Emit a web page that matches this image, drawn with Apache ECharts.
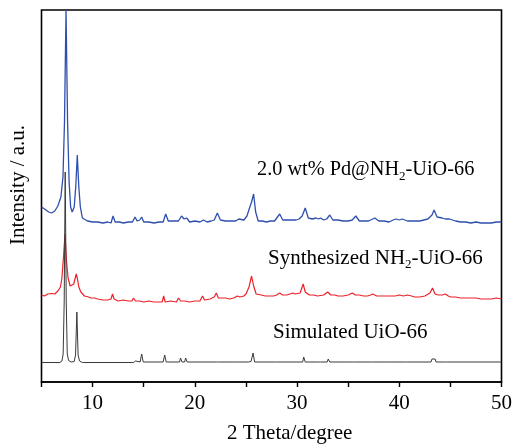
<!DOCTYPE html>
<html><head><meta charset="utf-8">
<script src="https://cdn.jsdelivr.net/npm/echarts@6/dist/echarts.min.js"></script>
<style>html,body{margin:0;padding:0;background:#fff}#c{width:515px;height:445px}</style>
</head><body><div id="c"></div>
<script>
// 2θ (degree) vs intensity (a.u., stacked offsets as drawn)
var xTicks = [10, 20, 30, 40, 50];
var seriesNames = ['Simulated UiO-66', 'Synthesized NH2-UiO-66', '2.0 wt% Pd@NH2-UiO-66'];

var simulated = [[5,19.5],[6.8,19.5],[7.0,21],[7.12,28],[7.22,80],[7.32,210],[7.42,80],[7.52,28],[7.65,21.5],[7.9,20],[8.2,20.5],[8.33,27],[8.46,70],[8.58,27],[8.72,21],[9,19.5],[14.0,19.5],[14.2,21],[14.35,19.5],[14.65,20],[14.8,28],[14.95,20],[16.9,20],[17.05,27],[17.2,20],[18.5,20],[18.6,24],[18.75,20],[19.0,20],[19.1,24],[19.25,20],[22.1,20],[22.2,22],[22.3,20],[24.1,20],[24.2,21],[24.3,20],[25.25,20],[25.35,22],[25.5,20.5],[25.6,21],[25.7,29],[25.85,20],[27.9,20],[28.0,21],[28.1,20],[29.5,20],[29.6,21],[29.7,20],[30.55,20],[30.65,25],[30.8,20],[32.1,20],[32.2,21],[32.3,20],[32.95,20],[33.05,23],[33.2,20],[34.6,20],[34.7,21],[34.8,20],[35.5,20],[35.6,22],[35.7,20],[37.3,20],[37.4,22],[37.5,20],[39.0,20],[39.1,21],[39.2,20],[40.5,20],[40.6,22],[40.7,20],[43.1,20],[43.2,23],[43.35,21],[43.5,23],[43.6,20],[44.4,20],[44.5,22],[44.6,20],[50,20]];

var synthesized = [[5,87],[5.3,86],[5.6,88],[6,88.5],[6.3,88],[6.6,91],[6.85,95],[7.0,104],[7.15,125],[7.3,148],[7.45,120],[7.6,104],[7.8,96],[7.95,94],[8.15,98],[8.3,104],[8.4,108],[8.52,103],[8.65,95],[8.85,90],[9.2,86],[9.6,85],[9.8,84],[10.2,84],[10.5,83],[11,82],[11.5,82],[11.8,83],[11.95,88],[12.1,83],[12.5,81],[13,82],[13.5,81],[13.85,81],[14.0,84],[14.2,81],[14.6,81],[15,80],[15.5,81],[16,80],[16.5,80],[16.8,80],[16.95,86],[17.1,80],[17.6,81],[18.2,80],[18.4,84],[18.6,81],[19.0,81],[19.5,80],[20,81],[20.5,81],[20.75,86],[20.95,82],[21.5,83],[21.9,85],[22.1,89],[22.3,84],[22.7,84],[23,84],[23.4,83],[23.8,84],[24.15,86],[24.4,85],[24.8,86],[25.0,88],[25.3,95],[25.55,106],[25.75,96],[26.0,88],[26.5,87],[26.9,86],[27.3,86],[27.7,86],[28.0,87],[28.3,89],[28.6,87],[29.0,87],[29.3,88],[29.6,89],[29.8,88],[30.3,89],[30.6,98],[30.8,90],[31.2,87],[31.6,87],[32.0,86],[32.6,87],[33.0,90],[33.3,87],[33.7,87],[34.0,86],[34.5,86],[35.0,87],[35.4,89],[35.7,87],[36.1,87],[36.5,86],[36.9,86],[37.2,87],[37.4,88],[37.8,86],[38.3,86],[39.0,86],[39.6,86],[40.0,87],[40.4,86],[40.8,87],[41.2,86],[41.5,85],[42.0,85],[42.5,86],[43.0,89],[43.25,94],[43.5,88],[43.8,87],[44.0,87],[44.2,87],[44.5,88],[44.8,86],[45,85],[45.5,85],[46,84],[46.5,84],[47,84],[47.5,84],[48,83],[48.5,83],[49,83],[49.5,84],[50,83]];

var pdLoaded = [[5,175],[5.3,173],[5.7,170],[6.0,169],[6.3,171],[6.6,176],[6.9,185],[7.1,205],[7.25,260],[7.4,372],[7.55,260],[7.7,200],[7.85,175],[8.0,170],[8.2,175],[8.35,195],[8.5,227],[8.65,195],[8.8,175],[9.0,164],[9.5,161],[10,160],[10.5,160],[11,159],[11.5,160],[11.8,159],[12.0,166],[12.2,160],[12.6,160],[13,159],[13.5,160],[13.9,160],[14.15,165],[14.35,161],[14.6,162],[14.8,165],[15.0,160],[15.5,160],[16,159],[16.5,160],[16.9,160],[17.15,168],[17.4,161],[17.9,161],[18.4,161],[18.7,166],[18.95,163],[19.2,164],[19.5,160],[20,161],[20.5,160],[20.85,162],[21.2,160],[21.6,161],[21.9,162],[22.2,169],[22.5,162],[23,161],[23.5,161],[24.0,161],[24.3,163],[24.8,162],[25.1,166],[25.35,174],[25.55,180],[25.75,188],[25.95,170],[26.2,161],[26.6,161],[27,160],[27.4,161],[27.8,161],[28.3,168],[28.6,162],[29.0,162],[29.5,162],[29.9,162],[30.2,163],[30.5,166],[30.8,174],[31.1,164],[31.5,163],[31.85,164],[32.1,163],[32.3,164],[32.6,162],[32.9,163],[33.2,167],[33.5,162],[34.0,162],[34.5,161],[35.0,161],[35.4,162],[35.75,166],[36.1,161],[36.5,161],[37.0,161],[37.6,164],[38.0,161],[38.5,161],[39.0,160],[39.4,162],[39.7,163],[40.0,162],[40.3,163],[40.8,161],[41.4,161],[42,161],[42.4,162],[42.8,163],[43.2,167],[43.4,172],[43.7,165],[44.2,164],[44.5,163],[44.9,163],[45.5,161],[46,160],[46.5,160],[47,159],[47.5,160],[48,159],[48.5,159],[49,159],[49.5,160],[50,160]];

var serif = "'Liberation Serif','Times New Roman',serif";
var chart = echarts.init(document.getElementById('c'), null, {renderer: 'canvas'});
chart.setOption({
  animation: false,
  backgroundColor: '#fff',
  grid: {left: 41.5, right: 13.5, top: 10, bottom: 63, show: true, borderColor: '#000', borderWidth: 1.6, backgroundColor: 'transparent'},
  xAxis: {
    type: 'value', min: 5, max: 50, interval: 5,
    axisLine: {show: true, lineStyle: {color: '#000', width: 1.6}},
    axisTick: {show: true, inside: false, length: 5, lineStyle: {color: '#000', width: 1.4}},
    axisLabel: {color: '#000', fontFamily: serif, fontSize: 21, margin: 11,
      formatter: function (v) { return xTicks.indexOf(v) >= 0 ? String(v) : ''; }},
    splitLine: {show: false}
  },
  yAxis: {
    type: 'value', min: 0, max: 372,
    axisLine: {show: false}, axisTick: {show: false}, axisLabel: {show: false}, splitLine: {show: false}
  },
  series: [
    {name: seriesNames[0], type: 'line', data: simulated, showSymbol: false, lineStyle: {color: '#3a3a3a', width: 1}, z: 3},
    {name: seriesNames[1], type: 'line', data: synthesized, showSymbol: false, lineStyle: {color: '#ec2129', width: 1.2}, z: 2},
    {name: seriesNames[2], type: 'line', data: pdLoaded, showSymbol: false, lineStyle: {color: '#2f4fae', width: 1.3}, z: 1}
  ],
  graphic: [
    {type: 'text', left: 257, top: 160, style: {
      text: '2.0 wt% Pd@NH{s|2}-UiO-66', fill: '#000', font: '20.3px ' + serif,
      rich: {s: {fontSize: 13, fontFamily: serif, padding: [13, 0, 0, 0], fill: '#000'}}}},
    {type: 'text', left: 268, top: 248, style: {
      text: 'Synthesized NH{s|2}-UiO-66', fill: '#000', font: '21px ' + serif,
      rich: {s: {fontSize: 13, fontFamily: serif, padding: [13, 0, 0, 0], fill: '#000'}}}},
    {type: 'text', left: 273, top: 322, style: {text: 'Simulated UiO-66', fill: '#000', font: '21px ' + serif}},
    {type: 'text', left: 227, top: 423, style: {text: '2 Theta/degree', fill: '#000', font: '21px ' + serif}},
    {type: 'text', x: 18, y: 185, rotation: Math.PI / 2, style: {text: 'Intensity / a.u.', fill: '#000', font: '21px ' + serif, align: 'center', verticalAlign: 'middle'}}
  ]
});
</script></body></html>
